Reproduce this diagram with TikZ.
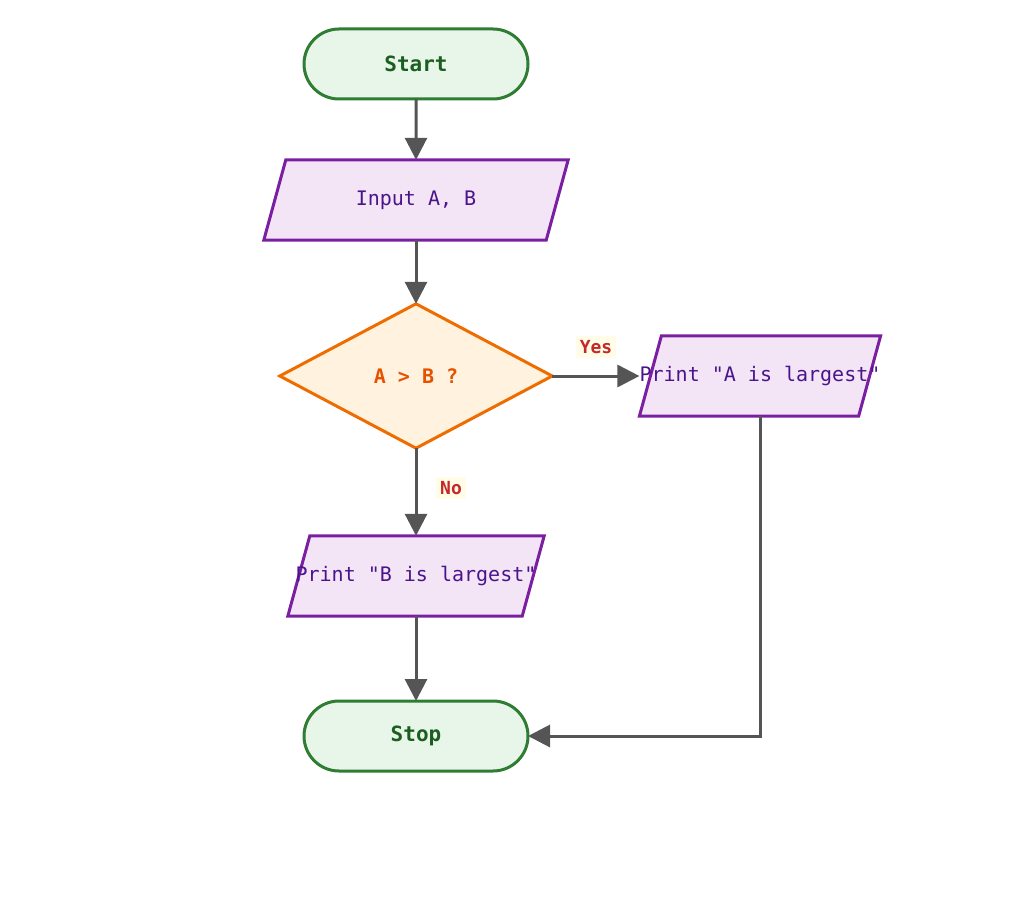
\documentclass[tikz,border=0pt]{standalone}
\usepackage{fontspec}
\setmonofont{DejaVu Sans Mono}
\usetikzlibrary{shapes.misc,arrows.meta,calc,backgrounds}
\definecolor{termfill}{HTML}{E8F5E9}
\definecolor{termdraw}{HTML}{2E7D32}
\definecolor{termtext}{HTML}{1B5E20}
\definecolor{iofill}{HTML}{F3E5F5}
\definecolor{iodraw}{HTML}{7B1FA2}
\definecolor{iotext}{HTML}{4A148C}
\definecolor{decfill}{HTML}{FFF3E0}
\definecolor{decdraw}{HTML}{EF6C00}
\definecolor{dectext}{HTML}{E65100}
\definecolor{edgecol}{HTML}{555555}
\definecolor{lblfill}{HTML}{FFFDE7}
\definecolor{lbltext}{HTML}{C62828}
\tikzset{
  terminal/.style={rounded rectangle, rounded rectangle arc length=180, draw=termdraw, fill=termfill, line width=3pt,
    minimum width=224pt, minimum height=70pt, inner sep=0pt, outer sep=0pt, text=termtext,
    font=\ttfamily\bfseries\fontsize{21}{25}\selectfont},
  iobox/.style={rectangle, inner sep=0pt, minimum height=80pt, text=iotext,
    font=\ttfamily\fontsize{20}{24}\selectfont},
  iopath/.style={draw=iodraw, fill=iofill, line width=3pt, line join=miter},
  decbox/.style={rectangle, inner sep=0pt, minimum width=272pt, minimum height=144pt,
    text=dectext, font=\ttfamily\bfseries\fontsize{20}{24}\selectfont},
  decpath/.style={draw=decdraw, fill=decfill, line width=3pt},
  flow/.style={draw=edgecol, line width=3pt, -{Triangle[length=22pt,width=22pt]}},
  lbl/.style={fill=lblfill, text=lbltext, inner sep=4pt,
    font=\ttfamily\bfseries\fontsize{18}{22}\selectfont}
}
\begin{document}
\begin{tikzpicture}[x=1pt,y=-1pt]
\useasboundingbox (0,0) rectangle (1024,896);
\node[terminal] (start) at (416,64) {Start};
\node[iobox, minimum width=304pt] (input) at (416,200) {Input A, B};
\node[decbox] (dec) at (416,376) {A > B ?};
\node[iobox, minimum width=240pt] (pa) at (760,376) {Print "A is largest"};
\node[iobox, minimum width=256pt] (pb) at (416,576) {Print "B is largest"};
\node[terminal] (stop) at (416,736) {Stop};
\coordinate (corner) at (pa.south |- stop.east);
\begin{scope}[on background layer]
  \path[iopath] ($(input.north west)+(22,0)$) -- (input.north east) -- ($(input.south east)-(22,0)$) -- (input.south west) -- cycle;
  \path[iopath] ($(pa.north west)+(22,0)$) -- (pa.north east) -- ($(pa.south east)-(22,0)$) -- (pa.south west) -- cycle;
  \path[iopath] ($(pb.north west)+(22,0)$) -- (pb.north east) -- ($(pb.south east)-(22,0)$) -- (pb.south west) -- cycle;
  \path[decpath] (dec.north) -- (dec.east) -- (dec.south) -- (dec.west) -- cycle;
\end{scope}
\draw[flow] (start) -- (input);
\draw[flow] (input) -- (dec);
\draw[flow] (dec.east) -- (pa.west);
\draw[flow] (dec.south) -- (pb.north);
\draw[flow] (pb) -- (stop);
\draw[flow] (pa.south) -- (corner) -- (stop.east);
\node[lbl] (yes) at (596,347) {Yes};
\node[lbl] (no) at (451,488) {No};
\end{tikzpicture}
\end{document}
